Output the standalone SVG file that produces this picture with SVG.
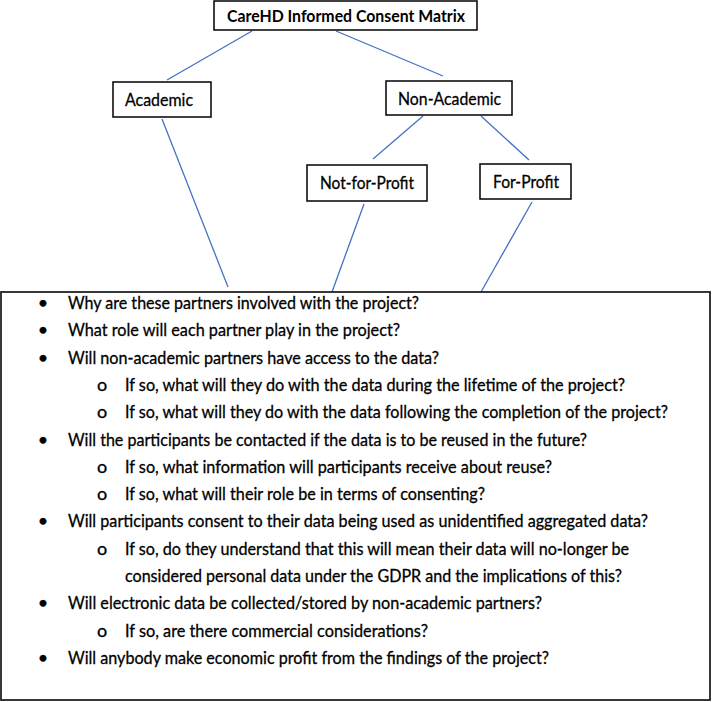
<svg xmlns="http://www.w3.org/2000/svg" width="712" height="702" viewBox="0 0 712 702">
<style>
.box{fill:#fff;stroke:#000;stroke-width:1.5}
.lbl{font-family:Lato,"Open Sans",sans-serif;font-size:18px;fill:#000;stroke:#000;stroke-width:0.3;text-anchor:middle}
.ttl{font-family:Lato,"Open Sans",sans-serif;font-size:17px;font-weight:bold;fill:#000;text-anchor:middle}
.q{font-family:Lato,"Open Sans",sans-serif;font-size:18px;fill:#000;stroke:#000;stroke-width:0.3}
.b{font-family:Lato,"Open Sans",sans-serif;font-size:18px;fill:#000;stroke:#000;stroke-width:0.3;text-anchor:middle}
.c line{stroke:#4472C4;stroke-width:1.3}
</style>
<rect width="712" height="702" fill="#fff"/>
<g class="c" id="connectors">
<line x1="252" y1="31" x2="167" y2="80"/>
<line x1="336" y1="31" x2="443" y2="76"/>
<line x1="423" y1="116" x2="373" y2="159"/>
<line x1="481" y1="116" x2="529" y2="160"/>
<line x1="162" y1="119" x2="228" y2="287"/>
<line x1="364" y1="204" x2="332" y2="292"/>
<line x1="532" y1="202" x2="481" y2="292"/>
</g>
<g id="title">
<rect class="box" x="214" y="1" width="263" height="29"/>
<text class="ttl" x="346" y="22" textLength="238" lengthAdjust="spacingAndGlyphs">CareHD Informed Consent Matrix</text>
</g>
<g id="academic">
<rect class="box" x="113" y="82" width="98" height="35"/>
<text class="lbl" x="159" y="106" textLength="68" lengthAdjust="spacingAndGlyphs">Academic</text>
</g>
<g id="non-academic">
<rect class="box" x="386" y="81" width="126" height="34"/>
<text class="lbl" x="449.5" y="104.5" textLength="103" lengthAdjust="spacingAndGlyphs">Non-Academic</text>
</g>
<g id="not-for-profit">
<rect class="box" x="307" y="165" width="120" height="36"/>
<text class="lbl" x="367" y="189" textLength="94" lengthAdjust="spacingAndGlyphs">Not-for-Profit</text>
</g>
<g id="for-profit">
<rect class="box" x="480" y="164" width="91" height="35"/>
<text class="lbl" x="526" y="188" textLength="66" lengthAdjust="spacingAndGlyphs">For-Profit</text>
</g>
<g id="questions">
<rect x="1" y="292" width="709" height="408" fill="#fff" stroke="#222" stroke-width="1.8"/>
<text class="b" x="43" y="309">•</text>
<text class="q" x="68" y="309" textLength="351" lengthAdjust="spacingAndGlyphs">Why are these partners involved with the project?</text>
<text class="b" x="43" y="336.3">•</text>
<text class="q" x="68" y="336.3" textLength="332" lengthAdjust="spacingAndGlyphs">What role will each partner play in the project?</text>
<text class="b" x="43" y="363.6">•</text>
<text class="q" x="68" y="363.6" textLength="371" lengthAdjust="spacingAndGlyphs">Will non-academic partners have access to the data?</text>
<text class="b" x="102" y="390.9">o</text>
<text class="q" x="125" y="390.9" textLength="500" lengthAdjust="spacingAndGlyphs">If so, what will they do with the data during the lifetime of the project?</text>
<text class="b" x="102" y="418.2">o</text>
<text class="q" x="125" y="418.2" textLength="543" lengthAdjust="spacingAndGlyphs">If so, what will they do with the data following the completion of the project?</text>
<text class="b" x="43" y="445.5">•</text>
<text class="q" x="68" y="445.5" textLength="519" lengthAdjust="spacingAndGlyphs">Will the participants be contacted if the data is to be reused in the future?</text>
<text class="b" x="102" y="472.8">o</text>
<text class="q" x="125" y="472.8" textLength="427" lengthAdjust="spacingAndGlyphs">If so, what information will participants receive about reuse?</text>
<text class="b" x="102" y="500.1">o</text>
<text class="q" x="125" y="500.1" textLength="360" lengthAdjust="spacingAndGlyphs">If so, what will their role be in terms of consenting?</text>
<text class="b" x="43" y="527.4">•</text>
<text class="q" x="68" y="527.4" textLength="580" lengthAdjust="spacingAndGlyphs">Will participants consent to their data being used as unidentified aggregated data?</text>
<text class="b" x="102" y="554.7">o</text>
<text class="q" x="125" y="554.7" textLength="504" lengthAdjust="spacingAndGlyphs">If so, do they understand that this will mean their data will no-longer be</text>
<text class="q" x="125" y="582" textLength="497" lengthAdjust="spacingAndGlyphs">considered personal data under the GDPR and the implications of this?</text>
<text class="b" x="43" y="609.3">•</text>
<text class="q" x="68" y="609.3" textLength="474" lengthAdjust="spacingAndGlyphs">Will electronic data be collected/stored by non-academic partners?</text>
<text class="b" x="102" y="636.6">o</text>
<text class="q" x="125" y="636.6" textLength="303" lengthAdjust="spacingAndGlyphs">If so, are there commercial considerations?</text>
<text class="b" x="43" y="663.9">•</text>
<text class="q" x="68" y="663.9" textLength="481" lengthAdjust="spacingAndGlyphs">Will anybody make economic profit from the findings of the project?</text>
</g>
</svg>
